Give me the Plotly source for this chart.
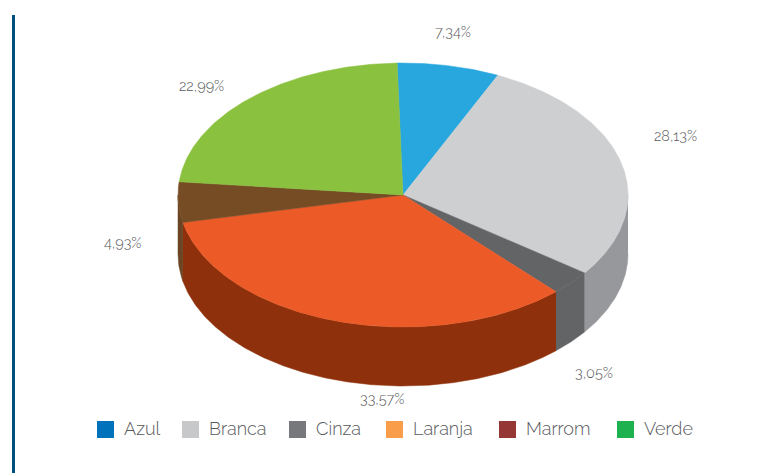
import numpy as np
import plotly.graph_objects as go

categories = ["Azul", "Branca", "Cinza", "Laranja", "Marrom", "Verde"]
values = [7.34, 28.13, 3.05, 33.57, 4.93, 22.99]
top_colors = ["#27A7DE", "#CECFD1", "#636466", "#EB5A27", "#754C24", "#8AC13F"]
wall_colors = ["#1A7FAD", "#97989B", "#636466", "#8E300B", "#6B4423", "#6A962F"]
legend_colors = ["#0072BC", "#C7C8CA", "#77787B", "#F99D4A", "#953735", "#1DB14F"]
label_x = [453, 675, 594, 382, 122, 201]
label_y = [31, 135, 372, 398, 242, 85]
legend_x = [105.5, 190.5, 297.5, 394.5, 507.5, 625.5]

WIDTH, HEIGHT = 759, 473
CX, CY, RX, RY, DEPTH = 403, 195, 225, 132, 59
LEGEND_Y = 429.5
START_DEG = -1.5
TEXT = "#58595B"
FONT = "Raleway, Lato, sans-serif"


def arc(a0, a1):
    t = np.radians(np.linspace(a0, a1, max(int(abs(a1 - a0) * 2), 2)))
    return CX + RX * np.sin(t), CY - RY * np.cos(t)


fig = go.Figure()
share = np.array(values) / sum(values) * 360
ends = START_DEG + np.cumsum(share)
starts = ends - share

# Side walls: only the part of each slice facing the viewer (90-270 degrees)
for name, a0, a1, col in zip(categories, starts, ends, wall_colors):
    lo, hi = max(a0, 90), min(a1, 270)
    if hi <= lo:
        continue
    x, y = arc(lo, hi)
    fig.add_trace(go.Scatter(
        x=np.r_[x, x[::-1]], y=np.r_[y, y[::-1] + DEPTH],
        mode="lines", fill="toself", fillcolor=col,
        line=dict(color=col, width=0.5), hoverinfo="skip", showlegend=False))

# Top faces
for name, v, a0, a1, col in zip(categories, values, starts, ends, top_colors):
    x, y = arc(a0, a1)
    fig.add_trace(go.Scatter(
        x=np.r_[CX, x, CX], y=np.r_[CY, y, CY],
        mode="lines", fill="toself", fillcolor=col,
        line=dict(color=col, width=0.5), hoverinfo="text",
        text=f"{name}: {v}%", showlegend=False))

# Legend keys and names
for name, lx, col in zip(categories, legend_x, legend_colors):
    fig.add_trace(go.Scatter(
        x=[lx], y=[LEGEND_Y], mode="markers", name=name, showlegend=False,
        marker=dict(symbol="square", size=17, color=col, line_width=0)))
    fig.add_annotation(x=lx + 16.5, y=LEGEND_Y - 1, text=name, showarrow=False, xanchor="left",
                       xshift=0, font=dict(family=FONT, size=18, color=TEXT, weight=300))

for v, lx, ly in zip(values, label_x, label_y):
    fig.add_annotation(x=lx, y=ly, text=f"{v:.2f}".replace(".", ",") + "%", showarrow=False,
                       font=dict(family=FONT, size=14.5, color=TEXT, weight=300))

fig.add_shape(type="rect", x0=12, x1=15, y0=15, y1=HEIGHT,
              fillcolor="#00507F", line_width=0, layer="below")

fig.update_layout(
    width=WIDTH, height=HEIGHT, margin=dict(l=0, r=0, t=0, b=0),
    paper_bgcolor="white", plot_bgcolor="white", showlegend=False,
    xaxis=dict(range=[0, WIDTH], visible=False, fixedrange=True),
    yaxis=dict(range=[HEIGHT, 0], visible=False, fixedrange=True),
)
fig.write_html("out.html", config=dict(displayModeBar=False),
               post_script="document.body.style.margin='0';")
